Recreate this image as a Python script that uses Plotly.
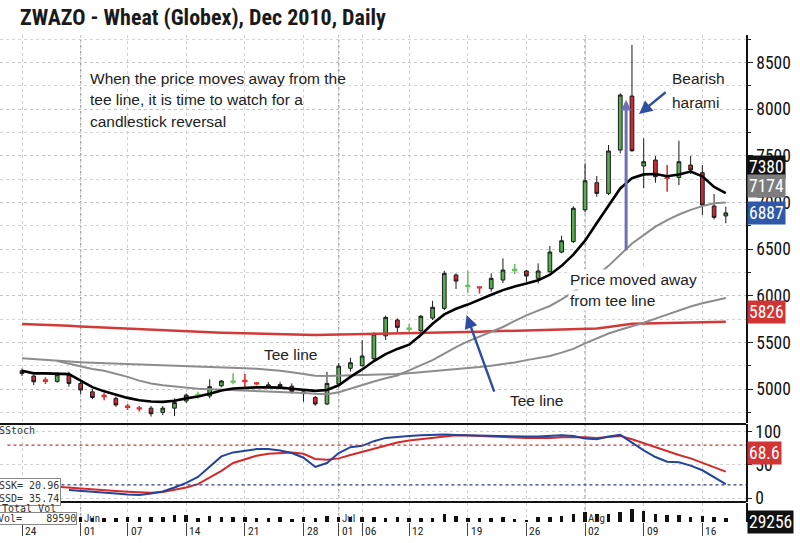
import plotly.graph_objects as go

# ---------------- data ----------------
dates = [
    "2010-05-24", "2010-05-25", "2010-05-26", "2010-05-27", "2010-05-28",
    "2010-06-01", "2010-06-02", "2010-06-03", "2010-06-04",
    "2010-06-07", "2010-06-08", "2010-06-09", "2010-06-10", "2010-06-11",
    "2010-06-14", "2010-06-15", "2010-06-16", "2010-06-17", "2010-06-18",
    "2010-06-21", "2010-06-22", "2010-06-23", "2010-06-24", "2010-06-25",
    "2010-06-28", "2010-06-29", "2010-06-30", "2010-07-01", "2010-07-02",
    "2010-07-06", "2010-07-07", "2010-07-08", "2010-07-09",
    "2010-07-12", "2010-07-13", "2010-07-14", "2010-07-15", "2010-07-16",
    "2010-07-19", "2010-07-20", "2010-07-21", "2010-07-22", "2010-07-23",
    "2010-07-26", "2010-07-27", "2010-07-28", "2010-07-29", "2010-07-30",
    "2010-08-02", "2010-08-03", "2010-08-04", "2010-08-05", "2010-08-06",
    "2010-08-09", "2010-08-10", "2010-08-11", "2010-08-12", "2010-08-13",
    "2010-08-16", "2010-08-17", "2010-08-18",
]

opens = [5196, 5139, 5095, 5082, 5150, 5060, 4970, 4930, 4900, 4815,
         4795, 4795, 4750, 4795, 4872, 4932, 4925, 5035, 5075, 5090,
         5065, 5025, 5028, 5030, 4950, 4910, 4840, 5055, 5222, 5250,
         5325, 5570, 5740, 5642, 5625, 5760, 5865, 6222, 6102, 6092,
         6075, 6168, 6272, 6265, 6186, 6257, 6468, 6580, 6920, 7211,
         7097, 7561, 8140, 7390, 7454, 7268, 7268, 7400, 7318, 6961,
         6855]
highs = [5222, 5150, 5125, 5179, 5185, 5096, 5000, 4955, 4920, 4840,
         4818, 4818, 4818, 4900, 4953, 4970, 5105, 5096, 5170, 5160,
         5075, 5075, 5078, 5061, 4972, 4925, 5185, 5275, 5335, 5525,
         5610, 5786, 5757, 5697, 5793, 5946, 6268, 6240, 6268, 6100,
         6240, 6400, 6340, 6275, 6347, 6533, 6643, 6960, 7418, 7283,
         7615, 8168, 8687, 7686, 7497, 7400, 7661, 7497, 7400, 7090,
         6954]
lows = [5139, 5043, 5054, 5068, 5025, 4950, 4890, 4880, 4810, 4775,
        4760, 4705, 4721, 4710, 4850, 4895, 4900, 5018, 5050, 5010,
        5040, 5010, 4997, 4950, 4864, 4820, 4828, 5032, 5185, 5240,
        5310, 5525, 5611, 5614, 5610, 5740, 5847, 6072, 6032, 6025,
        6043, 6135, 6232, 6150, 6133, 6247, 6454, 6565, 6894, 7061,
        7079, 7526, 7543, 7151, 7211, 7115, 7186, 7304, 6865, 6818,
        6776]
closes = [5165, 5078, 5085, 5153, 5060, 4990, 4910, 4920, 4830, 4805,
          4788, 4735, 4795, 4855, 4935, 4940, 5025, 5086, 5082, 5080,
          5058, 5045, 5048, 4972, 4970, 4840, 5060, 5245, 5282, 5354,
          5590, 5768, 5661, 5650, 5780, 5876, 6240, 6157, 6110, 6085,
          6186, 6275, 6280, 6211, 6265, 6468, 6589, 6937, 7232, 7097,
          7551, 8151, 7554, 7436, 7275, 7260, 7436, 7347, 6972, 6840,
          6887]

tee_line = [5196, 5168, 5168, 5168, 5160, 5090, 5020, 4975, 4940, 4905,
            4880, 4866, 4862, 4875, 4900, 4920, 4950, 4985, 5005, 5015,
            5018, 5018, 5015, 5003, 4990, 4980, 4990, 5040, 5130, 5210,
            5300, 5375, 5430, 5475, 5580, 5700, 5800, 5860, 5905, 5960,
            6010, 6060, 6100, 6130, 6165, 6225, 6320, 6440, 6590, 6780,
            6960, 7150, 7260, 7300, 7305, 7280, 7300, 7330, 7280, 7165,
            7100]
ma_red = [5697, 5694, 5690, 5685, 5678, 5670, 5664, 5658, 5652, 5646,
          5638, 5633, 5628, 5623, 5617, 5612, 5608, 5604, 5600, 5596,
          5592, 5590, 5587, 5585, 5582, 5580, 5582, 5584, 5586, 5588,
          5590, 5592, 5595, 5598, 5600, 5603, 5606, 5609, 5612, 5615,
          5618, 5621, 5624, 5627, 5630, 5635, 5638, 5640, 5645, 5650,
          5665, 5685, 5700, 5703, 5706, 5710, 5712, 5714, 5716, 5719,
          5721]
ma_gray_slow = [5329, 5320, 5310, 5300, 5295, 5288, 5282, 5277, 5270, 5266,
                5261, 5257, 5254, 5248, 5243, 5238, 5233, 5228, 5224, 5222,
                5218, 5210, 5195, 5180, 5160, 5142, 5140, 5142, 5144, 5146,
                5148, 5150, 5160, 5170, 5180, 5190, 5200, 5210, 5220, 5235,
                5250, 5265, 5285, 5310, 5330, 5355, 5390, 5430, 5490, 5545,
                5595, 5635, 5670, 5710, 5755, 5800, 5845, 5885, 5920, 5950,
                5975]
ma_gray_fast = [None, None, None, 5300, 5270, 5240, 5215, 5195, 5165, 5130,
                5090, 5060, 5040, 5025, 5012, 5003, 4997, 4993, 4989, 4985,
                4980, 4975, 4970, 4963, 4958, 4950, 4945, 4965, 5005, 5045,
                5080, 5115, 5145, 5200, 5255, 5310, 5380, 5450, 5510, 5560,
                5610, 5665, 5730, 5790, 5840, 5890, 5960, 6040, 6130, 6215,
                6320, 6440, 6560, 6650, 6740, 6810, 6870, 6920, 6960, 6990,
                7000]

stoch_k = [None, None, None, None, 12, 11, 9, 8, 7, 5.5,
           4.5, 7, 10, 16, 23, 32, 48, 63, 69, 72,
           74, 74, 72, 68, 61, 47, 53, 68, 77, 79,
           86, 91, 93, 94, 95, 96, 96, 95.5, 95, 94,
           94, 93.5, 93, 93, 93, 94, 95, 94, 90, 89,
           93, 95.5, 84, 72, 62, 55, 54, 49, 42, 32,
           21]
stoch_d = [None, None, None, 17, 15.5, 14, 12.5, 11.5, 10.5, 9.5,
           8.5, 8, 9, 12, 16, 21, 31, 41, 53, 59,
           64, 67, 68.5, 69, 67, 59, 58, 60, 65, 70,
           75, 80, 84, 87, 89, 92, 94, 95, 94.5, 93.5,
           92.5, 92, 91.5, 91, 90.5, 91, 92, 92.5, 92, 91,
           92, 94, 89, 83, 76, 70, 65, 60, 53, 46,
           40]

volume = [36000, 38000, 30000, 33000, 36000, 40000, 32000, 30000, 30000, 35000,
          35000, 37000, 40000, 54000, 51000, 28000, 47000, 37000, 35000, 35000,
          26000, 33000, 35000, 23000, 35000, 28000, 42000, 35000, 35000, 35000,
          40000, 30000, 35000, 28000, 30000, 33000, 58000, 47000, 30000, 28000,
          33000, 35000, 21000, 16000, 40000, 40000, 47000, 58000, 77000, 60000,
          58000, 75000, 93000, 82000, 58000, 54000, 54000, 40000, 42000, 40000,
          29256]

tick_dates = ["2010-05-24", "2010-06-01", "2010-06-07", "2010-06-14", "2010-06-21",
              "2010-06-28", "2010-07-01", "2010-07-06", "2010-07-12", "2010-07-19",
              "2010-07-26", "2010-08-02", "2010-08-09", "2010-08-16"]
tick_labels = ["24", "01", "07", "14", "21", "28", "01", "06", "12", "19",
               "26", "02", "09", "16"]
month_dates = ["2010-06-01", "2010-07-01", "2010-08-02"]
month_labels = ["Jun", "Jul", "Aug"]

# ---------------- styling ----------------
NARROW = "Roboto Condensed, Noto Sans Condensed, Liberation Sans Narrow, Arial Narrow, Liberation Sans, Arial"
NARROW2 = "Noto Sans Condensed, Roboto Condensed, Liberation Sans Narrow, Arial Narrow, Liberation Sans, Arial"
SANS = "Liberation Sans, Arial, Helvetica"
MONO = "DejaVu Sans Mono, Liberation Mono, monospace"
GREEN = "#55ad4f"
RED = "#cc2b36"

doji = [abs(c - o) < 20 for o, c in zip(opens, closes)]


def pick(arr, mask):
    return [v if m else None for v, m in zip(arr, mask)]


not_doji = [not d for d in doji]

fig = go.Figure()

fig.add_trace(go.Scatter(x=dates, y=ma_red, mode="lines", line=dict(color="#d23a3a", width=2.5),
                         hoverinfo="skip"))
fig.add_trace(go.Scatter(x=dates, y=ma_gray_slow, mode="lines", line=dict(color="#8c8c8c", width=2),
                         hoverinfo="skip"))
fig.add_trace(go.Scatter(x=dates, y=ma_gray_fast, mode="lines", line=dict(color="#8c8c8c", width=2),
                         hoverinfo="skip"))
fig.add_trace(go.Scatter(x=dates, y=tee_line, mode="lines", line=dict(color="#000000", width=2.6),
                         hoverinfo="skip"))

fig.add_trace(go.Candlestick(
    x=dates, open=pick(opens, not_doji), high=pick(highs, not_doji),
    low=pick(lows, not_doji), close=pick(closes, not_doji),
    increasing=dict(fillcolor=GREEN, line=dict(color="#1a1a1a", width=1)),
    decreasing=dict(fillcolor=RED, line=dict(color="#1a1a1a", width=1)),
))
fig.add_trace(go.Candlestick(
    x=dates, open=pick(opens, doji), high=pick(highs, doji),
    low=pick(lows, doji), close=pick(closes, doji),
    increasing=dict(fillcolor=GREEN, line=dict(color="#6cbf5f", width=1.6)),
    decreasing=dict(fillcolor=RED, line=dict(color="#d8323a", width=1.6)),
))

fig.add_trace(go.Scatter(x=dates, y=stoch_d, yaxis="y2", mode="lines",
                         line=dict(color="#d42a2a", width=2), hoverinfo="skip"))
fig.add_trace(go.Scatter(x=dates, y=stoch_k, yaxis="y2", mode="lines",
                         line=dict(color="#23449c", width=2), hoverinfo="skip"))

fig.add_trace(go.Bar(x=dates, y=volume, yaxis="y3", marker=dict(color="#111111", line=dict(width=0)),
                     width=0.3, hoverinfo="skip"))

# ---------------- layout ----------------
P_TOP, P_BOT = 35, 522
H = P_BOT - P_TOP


def pfrac(py):
    return (P_BOT - py) / H


fig.update_layout(
    width=800, height=543,
    margin=dict(l=0, r=54, t=P_TOP, b=543 - P_BOT),
    paper_bgcolor="white", plot_bgcolor="white",
    showlegend=False,
    boxgap=0.55,
    bargap=0,
    title=dict(text="<b>ZWAZO - Wheat (Globex), Dec 2010, Daily</b>",
               font=dict(family=NARROW, size=22, color="#1a1a1a"),
               x=0.025, xanchor="left", xref="container",
               y=1 - 17 / 543, yanchor="middle", yref="container"),
    xaxis=dict(type="category", range=[-1.876, 61.72], anchor="y3",
               tickmode="array", tickvals=tick_dates, showticklabels=False,
               ticks="outside", ticklen=13, tickcolor="#444", tickwidth=1,
               showgrid=True, gridcolor="#cfcfcf", griddash="dot", gridwidth=1,
               showline=False, zeroline=False, rangeslider=dict(visible=False),
               fixedrange=True),
    yaxis=dict(domain=[pfrac(423), 1], range=[4636, 8794], side="right", anchor="x",
               tick0=5000, dtick=500, ticks="outside", ticklen=5, tickcolor="#222",
               showline=True, linecolor="#111", linewidth=1.5,
               showgrid=True, gridcolor="#c4c4c4", griddash="dot",
               minor=dict(dtick=250, showgrid=True, gridcolor="#d6d6d6", griddash="dot",
                          ticks="outside", ticklen=3, tickcolor="#222"),
               tickfont=dict(family=NARROW2, size=17.5, color="#111"), zeroline=False),
    yaxis2=dict(domain=[pfrac(502), pfrac(424)], range=[-6, 112], side="right", anchor="x",
                tickvals=[0, 50, 100], ticks="outside", ticklen=4, tickcolor="#222",
                showline=True, linecolor="#111", linewidth=1.5,
                showgrid=True, gridcolor="#d0d0d0", griddash="dot",
                tickfont=dict(family=NARROW2, size=17.5, color="#111"), zeroline=False),
    yaxis3=dict(domain=[0, pfrac(503)], range=[0, 140000], side="right", anchor="x",
                showticklabels=False, showgrid=False, showline=True, linecolor="#111",
                linewidth=1.5, zeroline=False),
)

shapes = []
for d in month_dates:
    shapes.append(dict(type="line", xref="x", yref="paper", x0=d, x1=d, y0=0, y1=1,
                       line=dict(color="#9a9a9a", width=1.2, dash="dot"), layer="below"))
for py in (424, 502):
    shapes.append(dict(type="line", xref="paper", yref="paper", x0=0, x1=1,
                       y0=pfrac(py), y1=pfrac(py), line=dict(color="#111", width=2.2)))
shapes.append(dict(type="line", xref="paper", yref="y2", x0=0.01, x1=1, y0=80, y1=80,
                   line=dict(color="#d43030", width=1.3, dash="dot")))
shapes.append(dict(type="line", xref="paper", yref="y2", x0=0.01, x1=1, y0=20, y1=20,
                   line=dict(color="#2a3a8a", width=1.3, dash="dot")))
fig.update_layout(shapes=shapes)

ann = []
for txt, yv in [("When the price moves away from the", 8333),
                ("tee line, it is time to watch for a", 8103),
                ("candlestick reversal", 7872)]:
    ann.append(dict(x=5.63, y=yv, xref="x", yref="y", text=txt, showarrow=False,
                    xanchor="left", yanchor="middle", font=dict(family=SANS, size=15.5, color="#222")))
ann.append(dict(x=20.46, y=5375, xref="x", yref="y", text="Tee line", showarrow=False,
                xanchor="left", yanchor="middle", font=dict(family=SANS, size=15.5, color="#222")))
ann.append(dict(x=41.43, y=4882, xref="x", yref="y", text="Tee line", showarrow=False,
                xanchor="left", yanchor="middle", font=dict(family=SANS, size=15.5, color="#222")))
ann.append(dict(x=46.55, y=6179, xref="x", yref="y", text="Price moved away", showarrow=False,
                xanchor="left", yanchor="middle", bgcolor="white",
                font=dict(family=SANS, size=15.5, color="#222")))
ann.append(dict(x=46.55, y=5954, xref="x", yref="y", text="from tee line", showarrow=False,
                xanchor="left", yanchor="middle", bgcolor="white",
                font=dict(family=SANS, size=15.5, color="#222")))
ann.append(dict(x=55.24, y=8333, xref="x", yref="y", text="Bearish", showarrow=False,
                xanchor="left", yanchor="middle", font=dict(family=SANS, size=15.5, color="#222")))
ann.append(dict(x=55.24, y=8076, xref="x", yref="y", text="harami", showarrow=False,
                xanchor="left", yanchor="middle", font=dict(family=SANS, size=15.5, color="#222")))

ann.append(dict(x=52.6, y=7947, ax=55.0, ay=8194, xref="x", yref="y", axref="x", ayref="y",
                text="", showarrow=True, arrowhead=2, arrowsize=1.1, arrowwidth=2.4,
                arrowcolor="#2d4ea3"))
ann.append(dict(x=37.9, y=5793, ax=40.3, ay=4957, xref="x", yref="y", axref="x", ayref="y",
                text="", showarrow=True, arrowhead=2, arrowsize=1.1, arrowwidth=2.4,
                arrowcolor="#2d4ea3"))
ann.append(dict(x=51.5, y=8097, ax=51.5, ay=6472, xref="x", yref="y", axref="x", ayref="y",
                text="", showarrow=True, arrowhead=2, arrowsize=0.7, arrowwidth=3,
                arrowcolor="#7070b4"))

for val, bg, yref in [(7380, "#111111", "y"), (7174, "#7d7d7d", "y"), (6887, "#2f58a8", "y"),
                      (5826, "#d13434", "y"), (68.6, "#d13434", "y2")]:
    ann.append(dict(x=1, y=val, xref="paper", yref=yref, text=f"{val:g}", showarrow=False,
                    xanchor="left", yanchor="middle", xshift=1, bgcolor=bg, borderpad=1,
                    font=dict(family=NARROW2, size=17.5, color="white")))
ann.append(dict(x=1, y=volume[-1], xref="paper", yref="y3", text=f"{volume[-1]}", showarrow=False,
                xanchor="left", yanchor="middle", xshift=1, yshift=-4, bgcolor="#111111",
                borderpad=1, font=dict(family=NARROW2, size=17.5, color="white")))

ann.append(dict(x=0, y=pfrac(430), xref="paper", yref="paper", text="SStoch", showarrow=False,
                xanchor="left", yanchor="middle", xshift=-3, font=dict(family=MONO, size=10, color="#333")))
ann.append(dict(x=0, y=pfrac(491.5), xref="paper", yref="paper", text="SSK= 20.96<br>SSD= 35.74",
                showarrow=False, xanchor="left", yanchor="middle", align="left", xshift=-3,
                bgcolor="white", bordercolor="#888", borderwidth=1, borderpad=1,
                font=dict(family=MONO, size=10, color="#333")))
ann.append(dict(x=0, y=pfrac(508), xref="paper", yref="paper", text="Total Vol", showarrow=False,
                xanchor="left", yanchor="middle", font=dict(family=MONO, size=10, color="#333")))
ann.append(dict(x=0, y=pfrac(518.5), xref="paper", yref="paper", text="Vol=    89590", showarrow=False,
                xanchor="left", yanchor="middle", xshift=-3, bgcolor="white", bordercolor="#888",
                borderwidth=1, borderpad=0, font=dict(family=MONO, size=10, color="#333")))

for d, lab in zip(month_dates, month_labels):
    ann.append(dict(x=dates.index(d), y=pfrac(518), xref="x", yref="paper", text=lab,
                    showarrow=False, xanchor="left", yanchor="middle", xshift=1,
                    font=dict(family=NARROW2, size=11, color="#333")))

for d, lab in zip(tick_dates, tick_labels):
    ann.append(dict(x=dates.index(d), y=pfrac(531), xref="x", yref="paper", text=lab,
                    showarrow=False, xanchor="left", yanchor="middle", xshift=1,
                    font=dict(family=NARROW2, size=11.5, color="#222")))

fig.update_layout(annotations=ann)

fig.write_html("out.html", config={"displayModeBar": False},
               post_script="document.body.style.margin='0';document.body.style.padding='0';")
